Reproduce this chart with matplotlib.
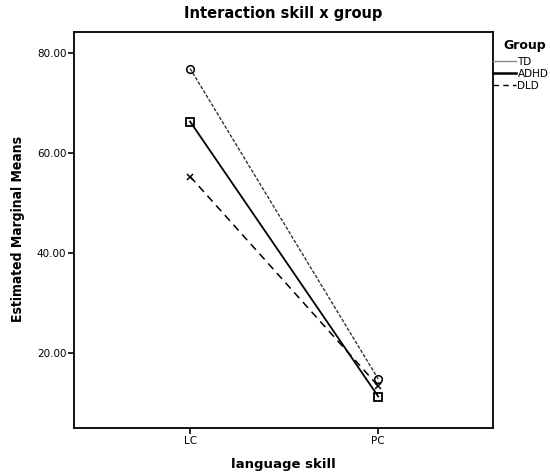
import matplotlib
matplotlib.use("Agg")
import matplotlib.pyplot as plt

# data
skills = ["LC", "PC"]
groups = ["TD", "ADHD", "DLD"]
td_means = [76.9, 14.8]
adhd_means = [66.3, 11.3]
dld_means = [55.3, 13.4]

yticks = [20, 40, 60, 80]


def main():
    W, H = 550, 472
    fig = plt.figure(figsize=(W / 100, H / 100), dpi=100)
    ax = fig.add_axes([74 / W, 1 - 428 / H, (493 - 74) / W, (428 - 32) / H])

    x = list(range(len(skills)))

    # lines drawn in plot (styles as in SPSS output)
    ax.plot(x, td_means, color="#333333", linewidth=1.0, linestyle=(0, (2.5, 1.2)))
    ax.plot(x, adhd_means, color="black", linewidth=1.3, linestyle="-")
    ax.plot(x, dld_means, color="black", linewidth=1.1, linestyle=(0, (5, 3.5)))

    ax.plot(x, td_means, linestyle="none", marker="o", markersize=5.5,
            markerfacecolor="none", markeredgecolor="black", markeredgewidth=1.1)
    ax.plot(x, adhd_means, linestyle="none", marker="s", markersize=5.5,
            markerfacecolor="none", markeredgecolor="black", markeredgewidth=1.3)
    ax.plot(x, dld_means, linestyle="none", marker="x", markersize=5,
            markeredgecolor="black", markeredgewidth=1.1)

    # legend handles (legend styles differ from plot styles in the original)
    h1, = ax.plot([], [], color="#888888", linewidth=1.0, linestyle="-")
    h2, = ax.plot([], [], color="black", linewidth=1.8, linestyle="-")
    h3, = ax.plot([], [], color="black", linewidth=1.0, linestyle=(0, (4, 3)))
    fig.legend([h1, h2, h3], groups, loc="upper left",
               bbox_to_anchor=(493 / W, 1 - 57 / H), bbox_transform=fig.transFigure,
               frameon=False, handlelength=2.2, handletextpad=0.15,
               labelspacing=0.18, borderaxespad=0, borderpad=0,
               prop={"family": "DejaVu Sans", "size": 7.5})
    fig.text(503 / W, 1 - 45 / H, "Group", ha="left", va="center",
             fontsize=9, fontweight="bold")

    ax.set_xlim(-0.617, 1.61)
    ax.set_ylim(5, 84.2)
    ax.set_xticks(x)
    ax.set_xticklabels(skills)
    ax.set_yticks(yticks)
    ax.set_yticklabels([f"{v:.2f}" for v in yticks])
    ax.tick_params(axis="both", direction="out", length=4, width=1.2,
                   labelsize=7.5, pad=1.5, colors="black")

    for s in ax.spines.values():
        s.set_linewidth(1.3)
        s.set_color("black")

    ax.set_title("Interaction skill x group", fontsize=10.5, fontweight="bold", pad=10)
    ax.set_xlabel("language skill", fontsize=9.5, fontweight="bold", labelpad=9)
    fig.text(18 / W, 1 - 229 / H, "Estimated Marginal Means", rotation=90,
             ha="center", va="center", fontsize=10, fontweight="bold",
             fontstretch="condensed")

    fig.savefig("out.png", dpi=100)


if __name__ == "__main__":
    main()
